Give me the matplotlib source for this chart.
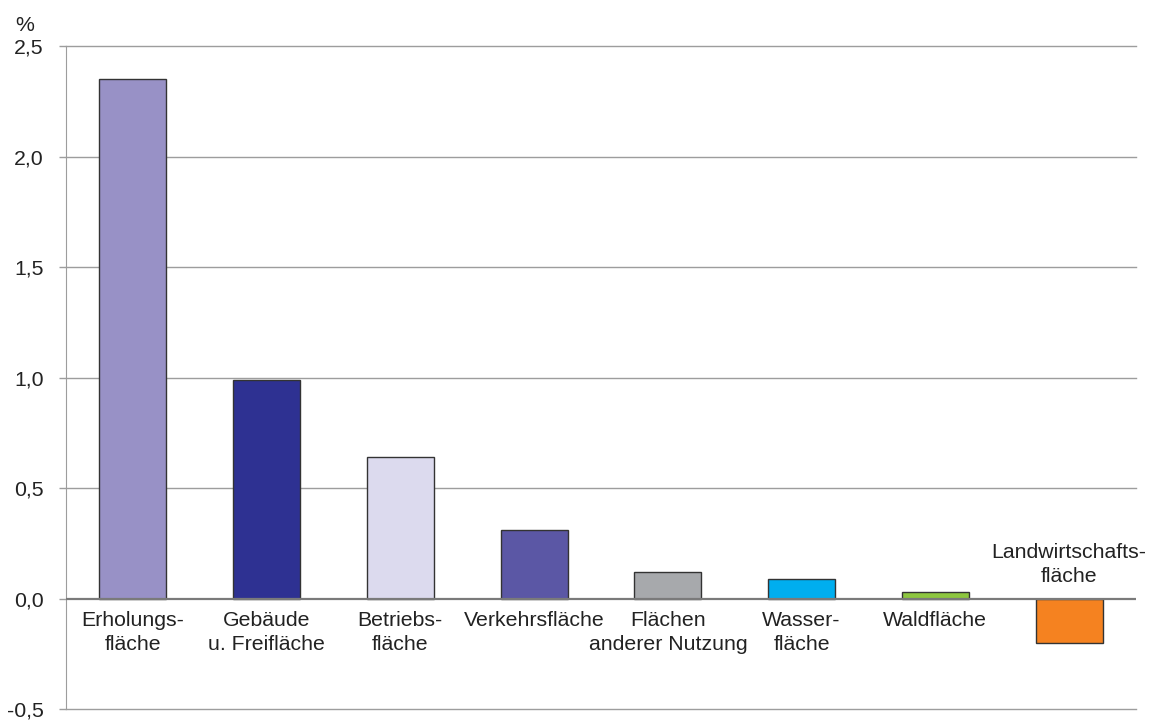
import matplotlib.pyplot as plt

plt.rcParams['font.family'] = ['Liberation Sans', 'DejaVu Sans']

# data
categories = ['Erholungs-\nfläche', 'Gebäude\nu. Freifläche', 'Betriebs-\nfläche', 'Verkehrsfläche',
              'Flächen\nanderer Nutzung', 'Wasser-\nfläche', 'Waldfläche', 'Landwirtschafts-\nfläche']
values = [2.35, 0.99, 0.64, 0.31, 0.12, 0.09, 0.03, -0.20]
colors = ['#9891C6', '#2E3192', '#DCDAEE', '#5B57A5', '#A7A9AC', '#00AEEF', '#8DC63F', '#F58220']
y_ticks = [-0.5, 0.0, 0.5, 1.0, 1.5, 2.0, 2.5]
y_labels = ['-0,5', '0,0', '0,5', '1,0', '1,5', '2,0', '2,5']

fs = 15.3
fig = plt.figure(figsize=(11.49, 7.22), dpi=100)
ax = fig.add_axes([0.0574, 0.0175, 0.9313, 0.9186])

x = list(range(len(categories)))
ax.set_axisbelow(True)
for t in y_ticks:
    if t != 0:
        ax.axhline(t, color='#9d9d9d', lw=1.0, zorder=0, clip_on=False)
ax.bar(x, values, width=0.5, color=colors, edgecolor='#333333', linewidth=1.0, zorder=2)
ax.axhline(0, color='#7a7a7a', lw=1.6, zorder=3)

ax.set_xlim(-0.5, len(categories) - 0.5)
ax.set_ylim(-0.5, 2.5)
ax.set_yticks(y_ticks)
ax.set_yticklabels(y_labels, fontsize=fs, color='#222222')
ax.set_xticks([])
ax.tick_params(axis='y', length=5, color='#9d9d9d', width=1.0, pad=11)

for s in ['top', 'right', 'bottom']:
    ax.spines[s].set_visible(False)
ax.spines['left'].set_color('#9d9d9d')

# category labels, one text per line: below the zero line, above it for negative bars
step = 0.108
for i, (cat, v) in enumerate(zip(categories, values)):
    lines = cat.split('\n')
    if v >= 0:
        for k, line in enumerate(lines):
            ax.text(i, -0.1 - k * step, line, ha='center', va='center', fontsize=fs, color='#222222')
    else:
        for k, line in enumerate(reversed(lines)):
            ax.text(i, 0.1 + k * step, line, ha='center', va='center', fontsize=fs, color='#222222')

fig.text(0.013, 0.965, '%', fontsize=fs, color='#222222', va='center', ha='left')

fig.savefig('out.png', dpi=100)
